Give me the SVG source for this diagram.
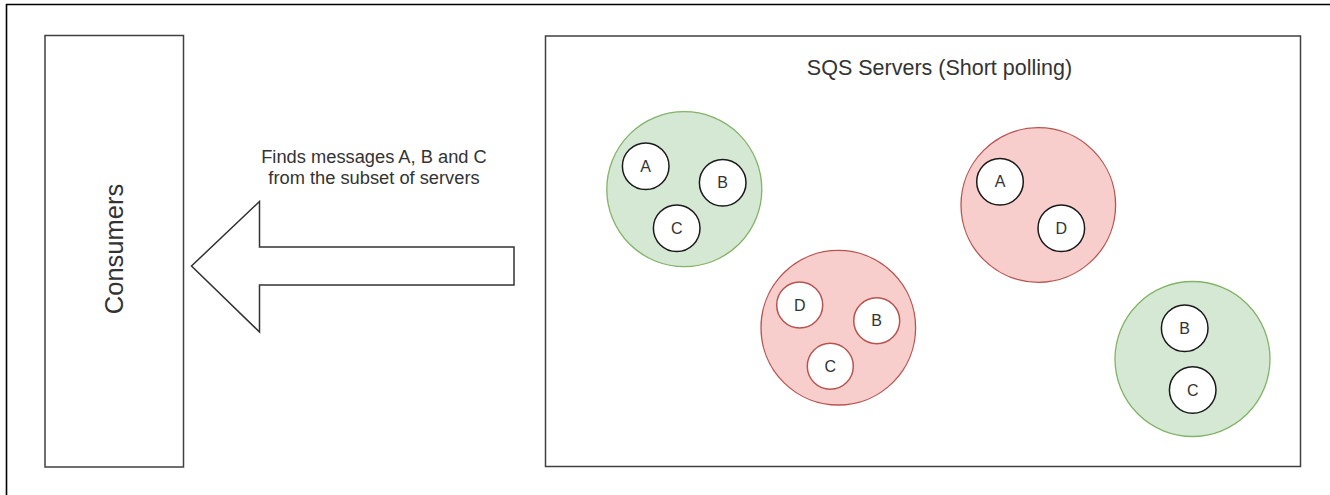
<svg xmlns="http://www.w3.org/2000/svg" width="1330" height="495" viewBox="0 0 1330 495">
<style>
.box{fill:#ffffff;stroke:#404040;stroke-width:1.5}
.green{fill:#d5e8d4;stroke:#82b366;stroke-width:1.3}
.red{fill:#f8cecc;stroke:#b85450;stroke-width:1.3}
.msg{fill:#ffffff;stroke:#1a1a1a;stroke-width:1.5}
.msgr{fill:#ffffff;stroke:#b85450;stroke-width:1.5}
.t{font-family:"Liberation Sans",Arial,sans-serif;fill:#333333;text-anchor:middle}
.m{font-size:16px;dominant-baseline:central}
</style>
<path d="M6.5,495 V4.5 H1330" fill="none" stroke="#000000" stroke-width="1.6"/>
<g id="consumers">
<rect class="box" x="45" y="35.5" width="138.5" height="431.5"/>
<text class="t" font-size="25.5" transform="translate(122.5,249) rotate(-90)">Consumers</text>
</g>
<g id="sqs-servers">
<rect class="box" x="545.5" y="36" width="755" height="430.5"/>
<text class="t" x="939.5" y="75" font-size="21.5">SQS Servers (Short polling)</text>
</g>
<g id="connectors">
<path id="arrow" d="M514,247 H259.5 V201.5 L191.5,266 L259.5,332 V285 H514 Z" fill="#ffffff" stroke="#333333" stroke-width="1.5" stroke-linejoin="miter"/>
<text class="t" font-size="18.3"><tspan x="374" y="163">Finds messages A, B and C</tspan><tspan x="374" y="183.5">from the subset of servers</tspan></text>
</g>
<g id="server1">
<circle class="green" cx="684.3" cy="189.2" r="77.5"/>
<circle class="msg" cx="645.7" cy="166.3" r="23.3"/><text class="t m" x="645.7" y="166.3">A</text>
<circle class="msg" cx="722.7" cy="182.7" r="23.3"/><text class="t m" x="722.7" y="182.7">B</text>
<circle class="msg" cx="676.7" cy="228.3" r="23.3"/><text class="t m" x="676.7" y="228.3">C</text>
</g>
<g id="server2">
<circle class="red" cx="838.3" cy="327.7" r="77.3"/>
<circle class="msgr" cx="799.7" cy="305" r="23"/><text class="t m" x="799.7" y="305">D</text>
<circle class="msgr" cx="876.7" cy="320.7" r="23"/><text class="t m" x="876.7" y="320.7">B</text>
<circle class="msgr" cx="830.3" cy="366.3" r="23"/><text class="t m" x="830.3" y="366.3">C</text>
</g>
<g id="server3">
<circle class="red" cx="1038.3" cy="205" r="77.3"/>
<circle class="msg" cx="1000" cy="181.7" r="23.3"/><text class="t m" x="1000" y="181.7">A</text>
<circle class="msg" cx="1061.3" cy="228.3" r="23.3"/><text class="t m" x="1061.3" y="228.3">D</text>
</g>
<g id="server4">
<circle class="green" cx="1192.5" cy="359" r="77.5"/>
<circle class="msg" cx="1184.7" cy="328.3" r="23.3"/><text class="t m" x="1184.7" y="328.3">B</text>
<circle class="msg" cx="1192.7" cy="390" r="23.3"/><text class="t m" x="1192.7" y="390">C</text>
</g>
</svg>
